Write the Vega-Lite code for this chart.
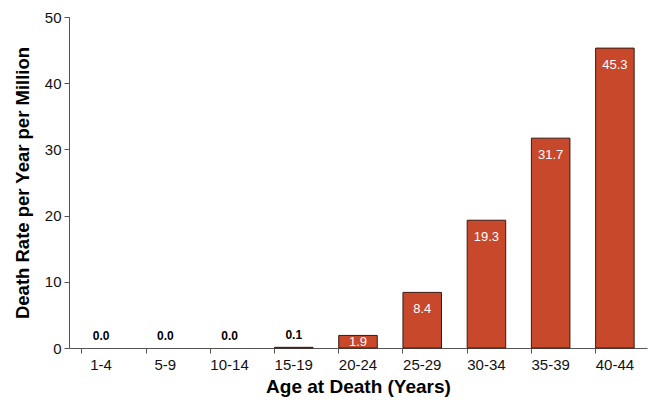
{
  "$schema": "https://vega.github.io/schema/vega-lite/v6.json",
  "width": 578,
  "height": 331,
  "autosize": "none",
  "padding": {"left": 69, "top": 17, "right": 3, "bottom": 52},
  "background": "white",
  "config": {"font": "Liberation Sans", "view": {"stroke": null}},
  "data": {"values": [
    {"age": "1-4", "rate": 0.0},
    {"age": "5-9", "rate": 0.0},
    {"age": "10-14", "rate": 0.0},
    {"age": "15-19", "rate": 0.1},
    {"age": "20-24", "rate": 1.9},
    {"age": "25-29", "rate": 8.4},
    {"age": "30-34", "rate": 19.3},
    {"age": "35-39", "rate": 31.7},
    {"age": "40-44", "rate": 45.3}
  ]},
  "encoding": {
    "x": {"field": "age", "type": "nominal",
      "sort": ["1-4", "5-9", "10-14", "15-19", "20-24", "25-29", "30-34", "35-39", "40-44"],
      "scale": {"paddingInner": 0.4, "paddingOuter": 0.2,
        "domain": ["1-4", "5-9", "10-14", "15-19", "20-24", "25-29", "30-34", "35-39", "40-44"]},
      "axis": {"title": "Age at Death (Years)", "labelAngle": 0, "bandPosition": 0,
        "labelFont": "Liberation Sans", "labelFontSize": 15, "labelColor": "#111",
        "labelPadding": 4, "tickSize": 5, "tickColor": "#555", "domainColor": "#555",
        "titleFont": "Liberation Sans", "titleFontSize": 19, "titleFontWeight": "bold",
        "titleColor": "#000", "titlePadding": 5}},
    "y": {"field": "rate", "type": "quantitative",
      "scale": {"domain": [0, 50], "nice": false},
      "axis": {"title": "Death Rate per Year per Million", "values": [0, 10, 20, 30, 40, 50],
        "grid": false, "labelFont": "Liberation Sans", "labelFontSize": 15, "labelColor": "#111",
        "labelPadding": 3, "tickSize": 5, "tickColor": "#555", "domainColor": "#555",
        "titleFont": "Liberation Sans", "titleFontSize": 18.5, "titleFontWeight": "bold",
        "titleColor": "#000", "titlePadding": 12}}
  },
  "layer": [
    {"transform": [{"filter": "datum.rate > 0"}],
      "mark": {"type": "bar", "color": "#C8482B", "stroke": "#3a1a12", "strokeWidth": 1}},
    {"transform": [{"filter": "datum.rate < 1"}],
      "mark": {"type": "text", "baseline": "bottom", "dy": -5, "fontSize": 12, "fontWeight": "bold", "color": "#000"},
      "encoding": {"text": {"field": "rate", "type": "quantitative", "format": ".1f"}}},
    {"transform": [{"filter": "datum.rate >= 5"}],
      "mark": {"type": "text", "baseline": "middle", "dy": 17, "fontSize": 13, "color": "#ffffff"},
      "encoding": {"text": {"field": "rate", "type": "quantitative", "format": ".1f"}}},
    {"transform": [{"filter": "datum.rate >= 1 && datum.rate < 5"}],
      "mark": {"type": "text", "baseline": "middle", "dy": 7, "fontSize": 13, "color": "#ffffff"},
      "encoding": {"text": {"field": "rate", "type": "quantitative", "format": ".1f"}}}
  ]
}
